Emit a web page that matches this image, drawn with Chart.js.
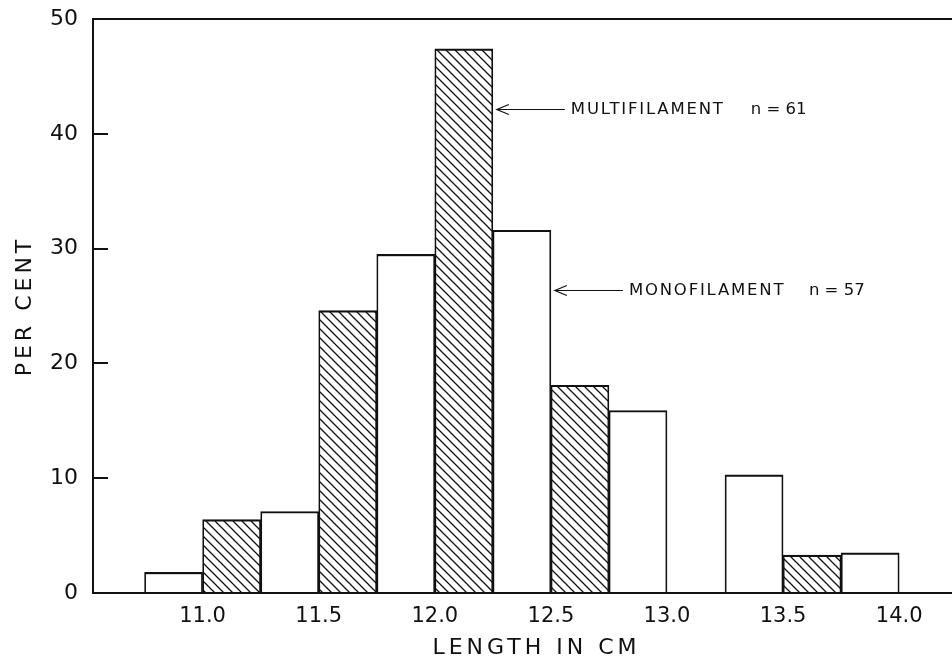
<!DOCTYPE html>
<html><head><meta charset="utf-8">
<style>
html,body{margin:0;padding:0;background:#fff;overflow:hidden;width:952px;height:660px}
#wrap{width:980px;height:660px}
</style>
<script src="https://cdn.jsdelivr.net/npm/chart.js@4/dist/chart.umd.min.js"></script>
</head><body><div id="wrap"><canvas id="c" width="980" height="660"></canvas></div>
<script>
// ---- data ----
const lengthClasses = [11.0, 11.5, 12.0, 12.5, 13.0, 13.5, 14.0];
const tickLabels = ['11.0', '11.5', '12.0', '12.5', '13.0', '13.5', '14.0'];
const monofilament = [1.8, 7.1, 29.5, 31.6, 15.9, 10.3, 3.5];
const multifilament = [6.4, 24.6, 47.4, 18.1, 0, 3.3, 0];
const seriesNames = ['MONOFILAMENT', 'MULTIFILAMENT'];
const seriesCounts = ['n = 57', 'n = 61'];
// arrow anchors (in data units: cm, per cent)
const arrowX = [12.5, 12.25];
const arrowY = [26.4, 42.2];

const FONT = "'DejaVu Sans', 'Liberation Sans', sans-serif";
const INK = '#111';
const canvas = document.getElementById('c');
const ctx = canvas.getContext('2d');

function hatchPattern() {
  const s = 9;
  const c = document.createElement('canvas');
  c.width = s; c.height = s;
  const g = c.getContext('2d');
  g.fillStyle = '#fff'; g.fillRect(0, 0, s, s);
  g.strokeStyle = INK; g.lineWidth = 1.3;
  g.beginPath();
  g.moveTo(-1, -1); g.lineTo(s + 1, s + 1);
  g.moveTo(-1, s - 1); g.lineTo(1, s + 1);
  g.moveTo(s - 1, -1); g.lineTo(s + 1, 1);
  g.stroke();
  return ctx.createPattern(c, 'repeat');
}

const decor = {
  id: 'decor',
  beforeDraw(chart) { chart.ctx.letterSpacing = '4px'; },
  beforeDatasetsDraw(chart) { chart.ctx.letterSpacing = '0px'; },
  afterDraw(chart) {
    const c = chart.ctx, a = chart.chartArea;
    const xs = chart.scales.x, ys = chart.scales.y;
    c.save();
    c.strokeStyle = INK; c.lineWidth = 2;
    c.beginPath(); c.moveTo(a.left - 1, a.top); c.lineTo(a.right, a.top); c.stroke();
    c.fillStyle = INK; c.lineWidth = 1.2;
    c.textBaseline = 'middle'; c.textAlign = 'left';
    for (let i = 0; i < 2; i++) {
      const tx = xs.getPixelForValue(arrowX[i]) + 4;
      const ty = Math.round(ys.getPixelForValue(arrowY[i])) + 0.5;
      c.beginPath();
      c.moveTo(tx, ty); c.lineTo(tx + 68, ty);
      c.moveTo(tx + 12, ty - 5); c.lineTo(tx, ty); c.lineTo(tx + 12, ty + 5);
      c.stroke();
      c.font = '16.5px ' + FONT;
      c.letterSpacing = '1.8px';
      c.fillText(seriesNames[i], tx + 74, ty);
      c.letterSpacing = '0px';
      c.fillText(seriesCounts[i], tx + 254, ty);
    }
    c.restore();
  }
};

const barBorder = { top: 2.2, left: 1.75, right: 1.75, bottom: 0 };

new Chart(ctx, {
  type: 'bar',
  data: {
    datasets: [
      {
        label: seriesNames[0],
        data: lengthClasses.map((x, i) => ({ x: x, y: monofilament[i] })),
        backgroundColor: '#fff',
        borderColor: INK,
        borderWidth: barBorder,
        categoryPercentage: 1, barPercentage: 1
      },
      {
        label: seriesNames[1],
        data: lengthClasses.map((x, i) => ({ x: x, y: multifilament[i] })),
        backgroundColor: hatchPattern(),
        borderColor: INK,
        borderWidth: barBorder,
        categoryPercentage: 1, barPercentage: 1
      }
    ]
  },
  options: {
    responsive: false,
    animation: false,
    layout: { padding: { top: 19, left: 0, right: 0, bottom: 0 } },
    plugins: { legend: { display: false }, tooltip: { enabled: false } },
    scales: {
      x: {
        type: 'linear',
        min: 10.528,
        max: 14.348,
        offset: false,
        afterBuildTicks: s => { s.ticks = lengthClasses.map(v => ({ value: v })); },
        afterFit: s => { s.height = 67; s.paddingLeft = 0; s.paddingRight = 0; },
        ticks: {
          z: 1,
          autoSkip: false, maxRotation: 0,
          padding: 11,
          color: INK,
          font: { family: FONT, size: 21 },
          callback: (v) => tickLabels[lengthClasses.indexOf(v)]
        },
        grid: { display: false, drawTicks: false },
        border: { display: true, color: INK, width: 2, z: 1 },
        title: {
          display: true, text: 'LENGTH IN CM', color: INK,
          font: { family: FONT, size: 22, lineHeight: 1 },
          padding: { top: 0, bottom: 1 }
        }
      },
      y: {
        min: 0, max: 50,
        afterFit: s => { s.width = 93; s.paddingTop = 0; s.paddingBottom = 0; },
        ticks: {
          z: 1, stepSize: 10, padding: 30, color: INK,
          font: { family: FONT, size: 22 }
        },
        grid: { display: true, drawOnChartArea: false, drawTicks: true, tickLength: -15, color: INK, lineWidth: 2 },
        border: { display: true, color: INK, width: 2, z: 1 },
        title: {
          display: true, text: 'PER CENT', color: INK,
          font: { family: FONT, size: 22, lineHeight: 1 },
          padding: { top: 14, bottom: 0 }
        }
      }
    }
  },
  plugins: [decor]
});
</script>
</body></html>
